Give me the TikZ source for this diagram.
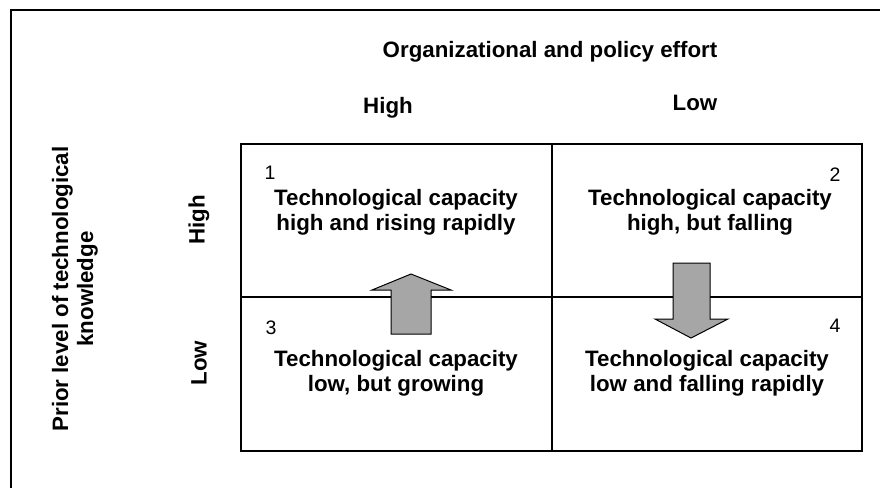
\documentclass[tikz,border=0pt]{standalone}
\usepackage{fontspec}
\setmainfont{Liberation Sans}
\usetikzlibrary{calc}
\definecolor{arrowgray}{RGB}{166,166,166}
\tikzset{
  heading/.style={font=\fontsize{22.3}{25}\selectfont\bfseries, inner sep=0pt},
  celltext/.style={heading, align=center},
  cellnum/.style={font=\fontsize{19.5}{22}\selectfont, inner sep=0pt},
  blockarrow/.style={draw=black, line width=1pt, fill=arrowgray},
  gridline/.style={line width=1.5pt}
}

\begin{document}
\begin{tikzpicture}[x=1pt,y=-1pt]
        \useasboundingbox (0,0) rectangle (880,488);
        \draw[gridline] (11,488) -- (11,10) -- (880,10);

        \draw[gridline] (241,144) coordinate (TL) rectangle (862,451) coordinate (BR);
        \draw[gridline] (552,144) coordinate (TM) -- (552,451) coordinate (BM);
        \draw[gridline] (241,297) coordinate (ML) -- (862,297) coordinate (MR);

        \filldraw[blockarrow] (391,334) -- (391,290) -- (372,290) -- (411,274) -- (451,290) -- (431,290) -- (431,334) -- cycle;
        \filldraw[blockarrow] (673,263) -- (710,263) -- (710,319) -- (728,319) -- (691,338) -- (655,319) -- (673,319) -- cycle;

        \node[heading, anchor=base] (effort) at (550,57) {Organizational and policy effort};
        \node[heading, anchor=base] (colhigh) at (388,113) {High};
        \node[heading, anchor=base] (collow) at (695,110) {Low};

        \node[celltext, rotate=90] (prior) at (75,289) {Prior level of technological\\knowledge};
        \node[heading, rotate=90] (rowhigh) at (199,220) {High};
        \node[heading, rotate=90] (rowlow) at (199,363) {Low};

        \node[celltext] (cellA) at (396,212) {Technological capacity\\high and rising rapidly};
        \node[celltext] (cellB) at (710,212) {Technological capacity\\high, but falling};
        \node[celltext] (cellC) at (396,373) {Technological capacity\\low, but growing};
        \node[celltext] (cellD) at (707,373) {Technological capacity\\low and falling rapidly};

        \node[cellnum] (numA) at (270,173) {1};
        \node[cellnum] (numB) at (835,175) {2};
        \node[cellnum] (numC) at (271,328) {3};
        \node[cellnum] (numD) at (835,326) {4};
\end{tikzpicture}
\end{document}
